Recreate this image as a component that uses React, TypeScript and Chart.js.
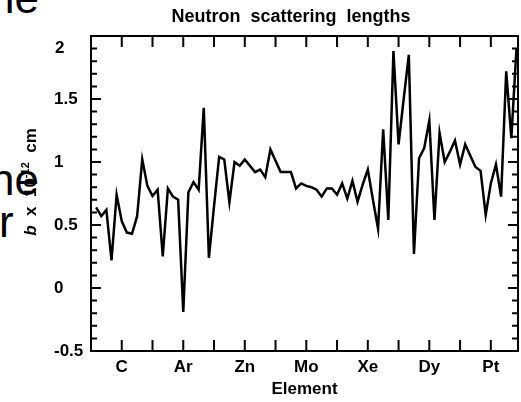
import React, { useEffect, useRef } from "react";
import { Chart, registerables } from "chart.js";

Chart.register(...registerables);

// Atomic number (x) and coherent scattering length b (units of 1e-12 cm)
const elementZ = [
  1, 2, 3, 4, 5, 6, 7, 8, 9, 10,
  11, 12, 13, 14, 15, 16, 17, 18, 19, 20,
  21, 22, 23, 24, 25, 26, 27, 28, 29, 30,
  31, 32, 33, 34, 35, 36, 37, 38, 39, 40,
  41, 42, 43, 44, 45, 46, 47, 48, 49, 50,
  51, 52, 53, 54, 55, 56, 57, 58, 59, 60,
  61, 62, 63, 64, 65, 66, 67, 68, 69, 70,
  71, 72, 73, 74, 75, 76, 77, 78, 79, 80,
  81, 82, 83,
];
const scatteringLength = [
  0.64, 0.57, 0.62, 0.22, 0.74, 0.53, 0.44, 0.43, 0.57, 1.02,
  0.81, 0.73, 0.78, 0.25, 0.79, 0.725, 0.7, -0.19, 0.76, 0.84,
  0.78, 1.43, 0.24, 0.65, 1.04, 1.02, 0.68, 1.0, 0.97, 1.02,
  0.97, 0.92, 0.94, 0.88, 1.1, 1.01, 0.92, 0.92, 0.92, 0.79,
  0.83, 0.81, 0.8, 0.78, 0.725, 0.79, 0.79, 0.74, 0.83, 0.71,
  0.85, 0.685, 0.82, 0.94, 0.7, 0.47, 1.26, 0.54, 1.88, 1.14,
  1.5, 1.85, 0.27, 1.03, 1.11, 1.33, 0.54, 1.23, 1.0, 1.08,
  1.17, 0.98, 1.14, 1.05, 0.96, 0.93, 0.58, 0.83, 0.98, 0.725,
  1.72, 1.19, 1.9,
];

const labelZ = [6, 18, 30, 42, 54, 66, 78];
const labelNames = ["C", "Ar", "Zn", "Mo", "Xe", "Dy", "Pt"];
const xTickStep = 6;
const yMajorStep = 0.5;
const yMinorStep = 0.1;
const xMin = 0;
const xMax = 83.3;
const yMin = -0.5;
const yMax = 2;

const chartTitle = "Neutron  scattering  lengths";
const xTitle = "Element";
const yTitleParts = ["b", "  x  10", "-12", "  cm"];

const FONT = "'Liberation Sans', Arial, Helvetica, sans-serif";
const TICK_FONT = `bold 17px ${FONT}`;

const fmt = (v: number) => String(Math.round(v * 100) / 100);

const frameTicksPlugin = {
  id: "frameTicks",
  afterDatasetsDraw(chart: any) {
    const { ctx, chartArea } = chart;
    const { left, right, top, bottom } = chartArea;
    const xs = chart.scales.x;
    const ys = chart.scales.y;
    ctx.save();
    ctx.strokeStyle = "#000";
    ctx.lineWidth = 2;
    ctx.strokeRect(left, top, right - left, bottom - top);
    ctx.beginPath();
    for (let k = 1; k * xTickStep < xs.max; k++) {
      const px = xs.getPixelForValue(xs.min + k * xTickStep);
      ctx.moveTo(px, bottom);
      ctx.lineTo(px, bottom - 11);
      ctx.moveTo(px, top);
      ctx.lineTo(px, top + 11);
    }
    const n = Math.round((ys.max - ys.min) / yMinorStep);
    for (let i = 1; i < n; i++) {
      const v = ys.min + i * yMinorStep;
      const major = Math.abs(v / yMajorStep - Math.round(v / yMajorStep)) < 1e-6;
      const len = major ? 10 : 6;
      const py = ys.getPixelForValue(v);
      ctx.moveTo(left, py);
      ctx.lineTo(left + len, py);
      ctx.moveTo(right, py);
      ctx.lineTo(right - len, py);
    }
    ctx.stroke();
    ctx.restore();
  },
  afterDraw(chart: any) {
    const { ctx } = chart;
    const ys = chart.scales.y;
    ctx.save();
    ctx.fillStyle = "#000";
    // top y tick label, nudged below the frame as in the original
    ctx.font = TICK_FONT;
    ctx.textAlign = "left";
    ctx.textBaseline = "middle";
    ctx.fillText(fmt(ys.max), ys.left + 1, ys.getPixelForValue(ys.max) + 12);
    // main title
    ctx.font = `bold 18px ${FONT}`;
    ctx.textAlign = "center";
    ctx.textBaseline = "middle";
    ctx.fillText(chartTitle, 291, 17);
    // y-axis title, rotated, with italic b and superscript
    ctx.translate(30, 182);
    ctx.rotate(-Math.PI / 2);
    ctx.textAlign = "left";
    ctx.textBaseline = "alphabetic";
    const fonts = [
      `italic bold 17px ${FONT}`,
      `bold 17px ${FONT}`,
      `bold 11px ${FONT}`,
      `bold 17px ${FONT}`,
    ];
    const dys = [6, 6, -1, 6];
    let total = 0;
    const widths = yTitleParts.map((t, i) => {
      ctx.font = fonts[i];
      const w = ctx.measureText(t).width;
      total += w;
      return w;
    });
    let x = -total / 2;
    yTitleParts.forEach((t, i) => {
      ctx.font = fonts[i];
      ctx.fillText(t, x, dys[i]);
      x += widths[i];
    });
    ctx.restore();
  },
};

export default function App() {
  const canvasRef = useRef<HTMLCanvasElement | null>(null);

  useEffect(() => {
    if (!canvasRef.current) return;
    const points = elementZ.map((z, i) => ({ x: z, y: scatteringLength[i] }));
    const chart = new Chart(canvasRef.current, {
      type: "line",
      data: {
        datasets: [
          {
            data: points,
            borderColor: "#000",
            borderWidth: 2.5,
            pointRadius: 0,
            tension: 0,
            fill: false,
          },
        ],
      },
      options: {
        animation: false,
        responsive: false,
        maintainAspectRatio: false,
        layout: { padding: { left: 54, right: 3, top: 36, bottom: 0 } },
        plugins: {
          legend: { display: false },
          title: { display: false },
          tooltip: { enabled: false },
        },
        scales: {
          x: {
            type: "linear",
            min: xMin,
            max: xMax,
            grid: { display: false, drawTicks: false },
            border: { display: false },
            afterBuildTicks: (s: any) => {
              s.ticks = labelZ.map((v) => ({ value: v }));
            },
            afterFit: (s: any) => {
              s.height = 51;
            },
            ticks: {
              autoSkip: false,
              maxRotation: 0,
              padding: 6,
              color: "#000",
              font: { family: FONT, size: 17, weight: "bold" },
              callback: (v: any) => {
                const idx = labelZ.indexOf(Number(v));
                return idx >= 0 ? labelNames[idx] : "";
              },
            },
            title: {
              display: true,
              text: xTitle,
              color: "#000",
              font: { family: FONT, size: 17, weight: "bold" },
              padding: { top: 0, bottom: 2 },
            },
          },
          y: {
            type: "linear",
            min: yMin,
            max: yMax,
            grid: { display: false, drawTicks: false },
            border: { display: false },
            afterFit: (s: any) => {
              s.width = 37;
            },
            ticks: {
              stepSize: yMajorStep,
              crossAlign: "far",
              padding: 0,
              color: "#000",
              font: { family: FONT, size: 17, weight: "bold" },
              callback: (v: any) => (Number(v) === yMax ? "" : fmt(Number(v))),
            },
          },
        },
      },
      plugins: [frameTicksPlugin],
    } as any);
    return () => chart.destroy();
  }, []);

  const bgText: React.CSSProperties = {
    position: "absolute",
    fontFamily: FONT,
    fontSize: 44,
    lineHeight: "44px",
    color: "#000",
    whiteSpace: "nowrap",
  };

  return (
    <div
      style={{
        position: "fixed",
        left: 0,
        top: 0,
        width: 521,
        height: 402,
        overflow: "hidden",
        background: "#fff",
      }}
    >
      <div style={{ ...bgText, right: 482, top: -24 }}>he</div>
      <div style={{ ...bgText, right: 482, top: 158 }}>he</div>
      <div style={{ ...bgText, left: -1, top: 200 }}>r</div>
      <canvas
        ref={canvasRef}
        width={521}
        height={402}
        style={{ position: "absolute", left: 0, top: 0, width: 521, height: 402 }}
      />
    </div>
  );
}
